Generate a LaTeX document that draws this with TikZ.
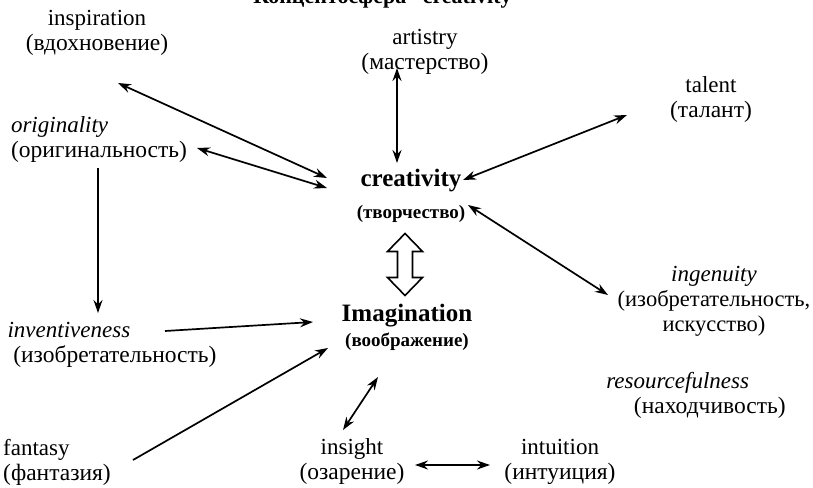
\documentclass[tikz,border=0pt]{standalone}
\usepackage{fontspec}
\setmainfont{Liberation Serif}
\usetikzlibrary{arrows.meta,calc}
\newcommand\ru[1]{{\fontsize{23.5}{25}\selectfont #1}}
\newcommand\rus[1]{{\fontsize{22.5}{23}\selectfont #1}}
\newcommand\rub[1]{{\fontsize{19}{25}\selectfont\bfseries #1}}
\begin{document}
\begin{tikzpicture}[x=1pt,y=-1pt,
 lbl/.style={align=center,font=\fontsize{23}{25}\selectfont,inner sep=1pt},
 key/.style={align=center,font=\fontsize{25}{30}\selectfont\bfseries,inner sep=1pt},
 conn/.style={line width=1.7pt},
 >={Stealth[length=13pt,width=9pt]}]
\useasboundingbox (0,0) rectangle (813,487);
\node[anchor=base,font=\fontsize{22}{26}\selectfont\bfseries] (title) at (388,4) {Концептосфера “creativity”};
% outer concepts
\node[lbl] (insp) at (97,33) {inspiration\\\ru{(вдохновение)}};
\node[lbl] (arts) at (425,52) {artistry\\\ru{(мастерство)}};
\node[lbl] (talent) at (711,100) {talent\\\ru{(талант)}};
\node[lbl,align=left] (orig) at (99,140) {\textit{originality}\\\ru{(оригинальность)}};
\node[lbl,align=left] (invent) at (112,345) {\textit{inventiveness}\\\ \ru{(изобретательность)}};
\node[lbl] (ingen) at (714,301) {\textit{ingenuity}\\\rus{(изобретательность,}\\\rus{искусство)}};
\node[lbl,align=left] (resour) at (696,395) {\textit{resourcefulness}\\\hspace{1.2em}\ru{(находчивость)}};
\node[lbl,align=left] (fantasy) at (57,462) {fantasy\\\ru{(фантазия)}};
\node[lbl] (insight) at (352,462) {insight\\\ru{(озарение)}};
\node[lbl] (intuit) at (560,462) {intuition\\\ru{(интуиция)}};
% core concepts
\node[key] (crea) at (411,196) {creativity\\[2pt]\rub{(творчество)}};
\node[key] (imag) at (407,327) {Imagination\\[-5pt]\rub{(воображение)}};
% links
\draw[conn,<->] ($(insp)+(21,50)$) -- ($(crea)+(-84,-18)$);
\draw[conn,<->] ($(orig)+(98,8)$) -- ($(crea)+(-84,-8)$);
\draw[conn,<->] ($(arts)+(-28,16)$) -- ($(crea)+(-14,-33)$);
\draw[conn,<->] ($(talent)+(-84,15)$) -- ($(crea)+(52,-16)$);
\draw[conn,<->] ($(ingen)+(-106,-6)$) -- ($(crea)+(57,9)$);
\draw[conn,->] ($(orig)+(-1,28)$) -- ($(invent)+(-14,-32)$);
\draw[conn,->] ($(invent)+(53,-14)$) -- ($(imag)+(-94,-5)$);
\draw[conn,->] ($(fantasy)+(76,-2)$) -- ($(imag)+(-79,21)$);
\draw[conn,<->] ($(insight)+(-9,-32)$) -- ($(imag)+(-29,50)$);
\draw[conn,<->] ($(insight)+(63,3)$) -- ($(intuit)+(-70,3)$);
% hollow double arrow
\coordinate (dbl) at ($(crea)!0.5!(imag)+(-4,3)$);
\draw[line width=1.6pt,line join=miter] ($(dbl)+(0,-31)$) -- ++(17.5,18) -- ++(-10,0) -- ++(0,26)
  -- ++(10,0) -- ++(-17.5,18) -- ++(-17.5,-18) -- ++(10,0) -- ++(0,-26) -- ++(-10,0) -- cycle;
\end{tikzpicture}
\end{document}
